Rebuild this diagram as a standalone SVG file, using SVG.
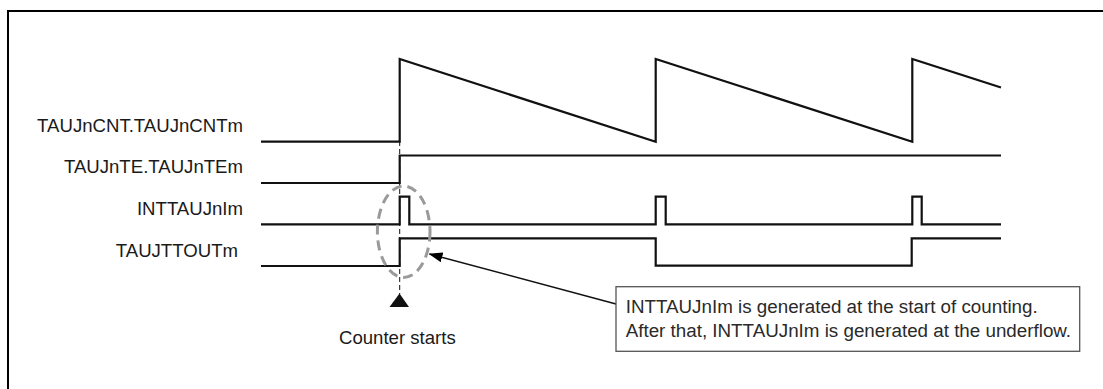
<svg xmlns="http://www.w3.org/2000/svg" width="1103" height="389" viewBox="0 0 1103 389">
<defs>
<style>
.lbl{font-family:"Liberation Sans",Arial,sans-serif;font-size:18.6px;fill:#1a1a1a}
.note{font-family:"Liberation Sans",Arial,sans-serif;font-size:18.8px;fill:#2a2a2a}
.sig{fill:none;stroke:#111;stroke-width:2.2;stroke-linejoin:miter}
</style>
<marker id="ah" markerWidth="14" markerHeight="10" refX="13" refY="5" orient="auto" markerUnits="userSpaceOnUse">
<path d="M0,0 L14,5 L0,10 Z" fill="#000"/>
</marker>
</defs>
<rect width="1103" height="389" fill="#fff"/>
<rect x="8" y="11" width="1200" height="500" fill="none" stroke="#000" stroke-width="2"/>

<g id="labels">
<text class="lbl" x="243" y="132" text-anchor="end">TAUJnCNT.TAUJnCNTm</text>
<text class="lbl" x="243" y="173" text-anchor="end">TAUJnTE.TAUJnTEm</text>
<text class="lbl" x="243" y="215" text-anchor="end">INTTAUJnIm</text>
<text class="lbl" x="238" y="257" text-anchor="end">TAUJTTOUTm</text>
</g>

<g id="signals">
<polyline id="cnt" class="sig" points="261,141.7 399.7,141.7 399.7,59 655.7,141.7 655.7,59 912.3,141.7 912.3,59 1001,87.5"/>
<polyline id="te" class="sig" points="261,183 399.7,183 399.7,155.5 1001,155.5"/>
<polyline id="intt" class="sig" points="261,224.3 399.7,224.3 399.7,196.7 409.3,196.7 409.3,224.3 655.7,224.3 655.7,196.7 665.7,196.7 665.7,224.3 912.3,224.3 912.3,196.7 921.7,196.7 921.7,224.3 1001,224.3"/>
<polyline id="ttout" class="sig" points="261,266 399.7,266 399.7,238.3 655.7,238.3 655.7,265.7 911.7,265.7 911.7,238.3 1001,238.3"/>
</g>

<g id="counter-start">
<line x1="399.7" y1="141" x2="399.7" y2="294" stroke="#111" stroke-width="1" stroke-dasharray="5,3"/>
<polygon points="399.5,293.5 389.5,307 409,307" fill="#111"/>
<text class="lbl" x="339" y="344">Counter starts</text>
</g>

<g id="highlight">
<ellipse cx="403.7" cy="231.7" rx="26.3" ry="45.7" fill="none" stroke="#9a9a9a" stroke-width="3" stroke-dasharray="10,6"/>
</g>

<g id="connectors">
<line x1="616" y1="304" x2="429.5" y2="254" stroke="#111" stroke-width="1.5" marker-end="url(#ah)"/>
</g>

<g id="callout">
<rect x="616" y="286.7" width="463.7" height="64.6" fill="#fff" stroke="#555" stroke-width="1.3"/>
<text class="note" x="625.7" y="313">INTTAUJnIm is generated at the start of counting.</text>
<text class="note" x="625.7" y="337">After that, INTTAUJnIm is generated at the underflow.</text>
</g>
</svg>
